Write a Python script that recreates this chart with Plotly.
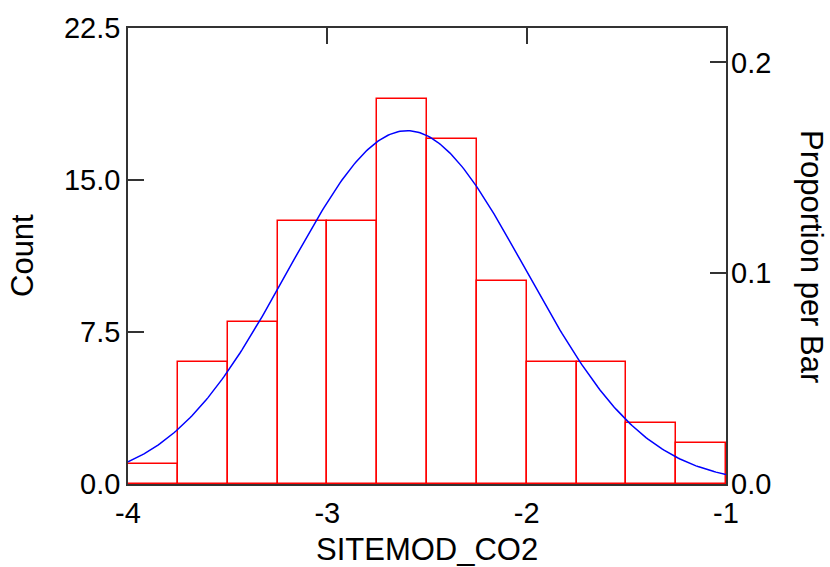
import numpy as np
import plotly.graph_objects as go

# Histogram data (bin edges of width 0.25 from -4 to -1)
bin_left = [-4.0, -3.75, -3.5, -3.25, -3.0, -2.75, -2.5, -2.25, -2.0, -1.75, -1.5, -1.25]
counts = [1, 6, 8, 13, 13, 19, 17, 10, 6, 6, 3, 2]
bin_width = 0.25

# Fitted normal curve parameters
curve_mean = -2.6
curve_sd = 0.595

x_ticks = [-4, -3, -2, -1]
x_ticktext = ["-4", "-3", "-2", "-1"]
y_ticks = [0, 7.5, 15, 22.5]
y_ticktext = ["0.0", "7.5", "15.0", "22.5"]
p_ticks = [0, 0.1, 0.2]
p_ticktext = ["0.0", "0.1", "0.2"]

n_total = sum(counts)
centers = [b + bin_width / 2 for b in bin_left]

xs = np.linspace(-4, -1, 300)
ys = n_total * bin_width / (curve_sd * np.sqrt(2 * np.pi)) * np.exp(-0.5 * ((xs - curve_mean) / curve_sd) ** 2)

FONT = "Liberation Sans, Arial, sans-serif"
fs = 29
tfs = 31
AX = "#333"

fig = go.Figure()
fig.add_trace(go.Bar(
    x=centers, y=counts, width=bin_width,
    marker=dict(color="rgba(255,255,255,0)", line=dict(color="#ff0000", width=1.5)),
    showlegend=False, hoverinfo="x+y",
))
fig.add_trace(go.Scatter(
    x=xs, y=ys, mode="lines", line=dict(color="#0000ff", width=1.5),
    showlegend=False,
))
# invisible traces for secondary axes
fig.add_trace(go.Scatter(x=[-4], y=[0], yaxis="y2", mode="markers",
                         marker=dict(opacity=0), showlegend=False, hoverinfo="skip"))
fig.add_trace(go.Scatter(x=[-4], y=[0], xaxis="x2", mode="markers",
                         marker=dict(opacity=0), showlegend=False, hoverinfo="skip"))

fig.update_layout(
    width=830, height=567,
    margin=dict(l=128, r=104, t=24, b=83),
    paper_bgcolor="white", plot_bgcolor="white",
    font=dict(family=FONT, size=fs, color="black"),
    bargap=0,
    xaxis=dict(
        range=[-4, -1], tickvals=x_ticks, ticktext=x_ticktext,
        ticks="", showline=True, linecolor=AX, linewidth=1.5, mirror=True,
        showgrid=False, zeroline=False, layer="below traces",
        tickfont=dict(size=fs), ticklabelstandoff=2,
    ),
    xaxis2=dict(
        range=[-4, -1], tickvals=x_ticks, overlaying="x", side="top",
        ticks="inside", ticklen=16, tickwidth=1.5, tickcolor=AX,
        showticklabels=False, showline=False, showgrid=False, zeroline=False,
    ),
    yaxis=dict(
        range=[0, 22.5], tickvals=y_ticks, ticktext=y_ticktext,
        ticks="inside", ticklen=16, tickwidth=1.5, tickcolor=AX,
        showline=True, linecolor=AX, linewidth=1.5, mirror=True,
        showgrid=False, zeroline=False, layer="below traces",
        tickfont=dict(size=fs),
    ),
    yaxis2=dict(
        range=[0, 22.5 / n_total], tickvals=p_ticks, ticktext=p_ticktext,
        overlaying="y", side="right",
        ticks="inside", ticklen=16, tickwidth=1.5, tickcolor=AX,
        showline=False, showgrid=False, zeroline=False,
        tickfont=dict(size=fs), ticklabelstandoff=4,
    ),
    annotations=[
        dict(text="SITEMOD_CO2", xref="paper", yref="paper", x=0.5, y=0,
             yshift=-65, xanchor="center", yanchor="middle", showarrow=False,
             font=dict(size=tfs), borderpad=0),
        dict(text="Count", xref="paper", yref="paper", x=0, y=0.5,
             xshift=-106, xanchor="center", yanchor="middle", showarrow=False,
             textangle=-90, font=dict(size=tfs), borderpad=0),
        dict(text="Proportion per Bar", xref="paper", yref="paper", x=1, y=0.5,
             xshift=86, xanchor="center", yanchor="middle", showarrow=False,
             textangle=90, font=dict(size=tfs), borderpad=0),
    ],
)

fig.write_html("out.html")
